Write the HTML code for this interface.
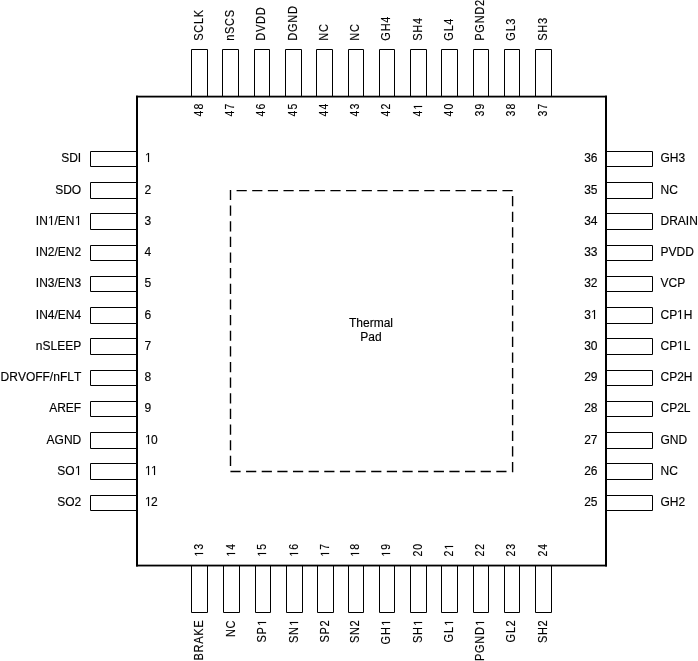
<!DOCTYPE html>
<html><head><meta charset="utf-8"><title>Pinout</title>
<style>html,body{margin:0;padding:0;background:#fff;}body{width:698px;height:661px;overflow:hidden;}svg{display:block;will-change:transform;filter:grayscale(1);}text{font-family:"Liberation Sans",sans-serif;font-size:12px;fill:#000;stroke:#000;stroke-width:0.15px;font-kerning:none;}g.t path{fill:#000;stroke:#000;stroke-width:0.1px;}</style>
</head><body>
<svg width="698" height="661" viewBox="0 0 698 661">
<rect x="0" y="0" width="698" height="661" fill="#fff"/>
<g fill="none" stroke="#000" stroke-width="1">
<path d="M137 151.5H90.5V166.5H137"/>
<path d="M606 151.5H652.5V166.5H606"/>
<path d="M191.5 96.6V49.5H207.5V96.6"/>
<path d="M191.5 565.55V612.5H207.5V565.55"/>
<path d="M137 182.5H90.5V198.5H137"/>
<path d="M606 182.5H652.5V198.5H606"/>
<path d="M222.5 96.6V49.5H238.5V96.6"/>
<path d="M223.5 565.55V612.5H239.5V565.55"/>
<path d="M137 213.5H90.5V229.5H137"/>
<path d="M606 213.5H652.5V229.5H606"/>
<path d="M254.5 96.6V49.5H269.5V96.6"/>
<path d="M255.5 565.55V612.5H270.5V565.55"/>
<path d="M137 245.5H90.5V260.5H137"/>
<path d="M606 245.5H652.5V260.5H606"/>
<path d="M285.5 96.6V49.5H301.5V96.6"/>
<path d="M286.5 565.55V612.5H302.5V565.55"/>
<path d="M137 276.5H90.5V291.5H137"/>
<path d="M606 276.5H652.5V291.5H606"/>
<path d="M316.5 96.6V49.5H332.5V96.6"/>
<path d="M317.5 565.55V612.5H333.5V565.55"/>
<path d="M137 307.5H90.5V323.5H137"/>
<path d="M606 307.5H652.5V323.5H606"/>
<path d="M348.5 96.6V49.5H363.5V96.6"/>
<path d="M348.5 565.55V612.5H363.5V565.55"/>
<path d="M137 338.5H90.5V354.5H137"/>
<path d="M606 338.5H652.5V354.5H606"/>
<path d="M379.5 96.6V49.5H394.5V96.6"/>
<path d="M379.5 565.55V612.5H394.5V565.55"/>
<path d="M137 370.5H90.5V385.5H137"/>
<path d="M606 370.5H652.5V385.5H606"/>
<path d="M410.5 96.6V49.5H426.5V96.6"/>
<path d="M410.5 565.55V612.5H426.5V565.55"/>
<path d="M137 401.5H90.5V416.5H137"/>
<path d="M606 401.5H652.5V416.5H606"/>
<path d="M441.5 96.6V49.5H457.5V96.6"/>
<path d="M441.5 565.55V612.5H457.5V565.55"/>
<path d="M137 432.5H90.5V448.5H137"/>
<path d="M606 432.5H652.5V448.5H606"/>
<path d="M473.5 96.6V49.5H488.5V96.6"/>
<path d="M473.5 565.55V612.5H488.5V565.55"/>
<path d="M137 463.5H90.5V479.5H137"/>
<path d="M606 463.5H652.5V479.5H606"/>
<path d="M504.5 96.6V49.5H519.5V96.6"/>
<path d="M504.5 565.55V612.5H519.5V565.55"/>
<path d="M137 495.5H90.5V510.5H137"/>
<path d="M606 495.5H652.5V510.5H606"/>
<path d="M535.5 96.6V49.5H551.5V96.6"/>
<path d="M535.5 565.55V612.5H551.5V565.55"/>
</g>
<g fill="#000">
<rect x="136" y="95.7" width="2" height="470.75"/>
<rect x="605" y="95.7" width="2" height="470.75"/>
<rect x="136" y="95.7" width="471" height="1.8"/>
<rect x="136" y="564.65" width="471" height="1.8"/>
</g>
<path d="M230.5 190.6V471.5H512.6V190.6H230.5" fill="none" stroke="#000" stroke-width="1.4" stroke-linecap="square" stroke-dasharray="8.8 6.84"/>
<g class="t">
<g transform="translate(371.00 327.00)"><text x="-22.00">Thermal</text></g>
<g transform="translate(371.00 341.00)"><text x="-10.68">Pad</text></g>
<g transform="translate(81.20 162.00)"><text x="-20.00">SDI</text></g>
<g transform="translate(144.45 162.00)"><path d="M3.55 0V-7.90L1.69 -6.45V-7.53L3.64 -9.00H4.60V0Z"/></g>
<g transform="translate(660.50 162.00)"><text x="0.00">GH3</text></g>
<g transform="translate(597.50 162.00)"><text x="-13.35">36</text></g>
<g transform="translate(81.20 194.00)"><text x="-26.00">SDO</text></g>
<g transform="translate(144.45 194.00)"><text x="0.00">2</text></g>
<g transform="translate(660.50 194.00)"><text x="0.00">NC</text></g>
<g transform="translate(597.50 194.00)"><text x="-13.35">35</text></g>
<g transform="translate(81.20 225.00)"><text x="-45.35">IN</text><path d="M-30.20 0V-7.90L-32.06 -6.45V-7.53L-30.11 -9.00H-29.15V0Z"/><text x="-26.68">/EN</text><path d="M-3.20 0V-7.90L-5.06 -6.45V-7.53L-3.11 -9.00H-2.15V0Z"/></g>
<g transform="translate(144.45 225.00)"><text x="0.00">3</text></g>
<g transform="translate(660.50 225.00)"><text x="0.00">DRAIN</text></g>
<g transform="translate(597.50 225.00)"><text x="-13.35">34</text></g>
<g transform="translate(81.20 256.00)"><text x="-45.35">IN2/EN2</text></g>
<g transform="translate(144.45 256.00)"><text x="0.00">4</text></g>
<g transform="translate(660.50 256.00)"><text x="0.00">PVDD</text></g>
<g transform="translate(597.50 256.00)"><text x="-13.35">33</text></g>
<g transform="translate(81.20 287.00)"><text x="-45.35">IN3/EN3</text></g>
<g transform="translate(144.45 287.00)"><text x="0.00">5</text></g>
<g transform="translate(660.50 287.00)"><text x="0.00">VCP</text></g>
<g transform="translate(597.50 287.00)"><text x="-13.35">32</text></g>
<g transform="translate(81.20 319.00)"><text x="-45.35">IN4/EN4</text></g>
<g transform="translate(144.45 319.00)"><text x="0.00">6</text></g>
<g transform="translate(660.50 319.00)"><text x="0.00">CP</text><path d="M19.50 0V-7.90L17.64 -6.45V-7.53L19.59 -9.00H20.55V0Z"/><text x="23.34">H</text></g>
<g transform="translate(597.50 319.00)"><text x="-13.35">3</text><path d="M-3.50 0V-7.90L-5.36 -6.45V-7.53L-3.41 -9.00H-2.45V0Z"/></g>
<g transform="translate(81.20 350.00)"><text x="-45.36">nSLEEP</text></g>
<g transform="translate(144.45 350.00)"><text x="0.00">7</text></g>
<g transform="translate(660.50 350.00)"><text x="0.00">CP</text><path d="M19.50 0V-7.90L17.64 -6.45V-7.53L19.59 -9.00H20.55V0Z"/><text x="23.34">L</text></g>
<g transform="translate(597.50 350.00)"><text x="-13.35">30</text></g>
<g transform="translate(81.20 381.00)"><text x="-80.67">DRVOFF/nFLT</text></g>
<g transform="translate(144.45 381.00)"><text x="0.00">8</text></g>
<g transform="translate(660.50 381.00)"><text x="0.00">CP2H</text></g>
<g transform="translate(597.50 381.00)"><text x="-13.35">29</text></g>
<g transform="translate(81.20 412.00)"><text x="-32.00">AREF</text></g>
<g transform="translate(144.45 412.00)"><text x="0.00">9</text></g>
<g transform="translate(660.50 412.00)"><text x="0.00">CP2L</text></g>
<g transform="translate(597.50 412.00)"><text x="-13.35">28</text></g>
<g transform="translate(81.20 444.00)"><text x="-34.67">AGND</text></g>
<g transform="translate(144.45 444.00)"><path d="M3.55 0V-7.90L1.69 -6.45V-7.53L3.64 -9.00H4.60V0Z"/><text x="6.67">0</text></g>
<g transform="translate(660.50 444.00)"><text x="0.00">GND</text></g>
<g transform="translate(597.50 444.00)"><text x="-13.35">27</text></g>
<g transform="translate(81.20 475.00)"><text x="-24.01">SO</text><path d="M-3.20 0V-7.90L-5.06 -6.45V-7.53L-3.11 -9.00H-2.15V0Z"/></g>
<g transform="translate(144.45 475.00)"><path d="M3.55 0V-7.90L1.69 -6.45V-7.53L3.64 -9.00H4.60V0Z"/><path d="M9.55 0V-7.90L7.69 -6.45V-7.53L9.64 -9.00H10.60V0Z"/></g>
<g transform="translate(660.50 475.00)"><text x="0.00">NC</text></g>
<g transform="translate(597.50 475.00)"><text x="-13.35">26</text></g>
<g transform="translate(81.20 506.00)"><text x="-24.01">SO2</text></g>
<g transform="translate(144.45 506.00)"><path d="M3.55 0V-7.90L1.69 -6.45V-7.53L3.64 -9.00H4.60V0Z"/><text x="6.67">2</text></g>
<g transform="translate(660.50 506.00)"><text x="0.00">GH2</text></g>
<g transform="translate(597.50 506.00)"><text x="-13.35">25</text></g>
<g transform="translate(203.10 40.70) rotate(-90)"><text transform="translate(0.00 0) scale(0.92 1)">S</text><text transform="translate(8.00 0) scale(0.92 1)">C</text><text transform="translate(16.67 0) scale(0.92 1)">L</text><text transform="translate(23.34 0) scale(0.92 1)">K</text></g>
<g transform="translate(203.10 116.50) rotate(-90)"><text transform="translate(0.00 0) scale(0.87 1)">4</text><text transform="translate(6.90 0) scale(0.87 1)">8</text></g>
<g transform="translate(203.10 619.75) rotate(-90)"><text transform="translate(-40.68 0) scale(0.92 1)">B</text><text transform="translate(-32.68 0) scale(0.92 1)">R</text><text transform="translate(-24.01 0) scale(0.92 1)">A</text><text transform="translate(-16.01 0) scale(0.92 1)">K</text><text transform="translate(-8.00 0) scale(0.92 1)">E</text></g>
<g transform="translate(203.10 556.60) rotate(-90)"><path d="M2.60 0V-7.29L0.98 -5.95V-6.94L2.69 -8.30H3.65V0Z"/><text transform="translate(6.90 0) scale(0.87 1)">3</text></g>
<g transform="translate(234.10 40.70) rotate(-90)"><text transform="translate(0.00 0) scale(0.92 1)">n</text><text transform="translate(6.67 0) scale(0.92 1)">S</text><text transform="translate(14.68 0) scale(0.92 1)">C</text><text transform="translate(23.34 0) scale(0.92 1)">S</text></g>
<g transform="translate(234.10 116.50) rotate(-90)"><text transform="translate(0.00 0) scale(0.87 1)">4</text><text transform="translate(6.90 0) scale(0.87 1)">7</text></g>
<g transform="translate(235.10 619.75) rotate(-90)"><text transform="translate(-17.33 0) scale(0.92 1)">N</text><text transform="translate(-8.67 0) scale(0.92 1)">C</text></g>
<g transform="translate(235.10 556.60) rotate(-90)"><path d="M2.60 0V-7.29L0.98 -5.95V-6.94L2.69 -8.30H3.65V0Z"/><text transform="translate(6.90 0) scale(0.87 1)">4</text></g>
<g transform="translate(265.10 40.70) rotate(-90)"><text transform="translate(0.00 0) scale(0.92 1)">D</text><text transform="translate(8.67 0) scale(0.92 1)">V</text><text transform="translate(16.67 0) scale(0.92 1)">D</text><text transform="translate(25.34 0) scale(0.92 1)">D</text></g>
<g transform="translate(265.10 116.50) rotate(-90)"><text transform="translate(0.00 0) scale(0.87 1)">4</text><text transform="translate(6.90 0) scale(0.87 1)">6</text></g>
<g transform="translate(266.10 619.75) rotate(-90)"><text transform="translate(-22.68 0) scale(0.92 1)">S</text><text transform="translate(-14.68 0) scale(0.92 1)">P</text><path d="M-3.25 0V-7.29L-4.96 -5.95V-6.94L-3.16 -8.30H-2.20V0Z"/></g>
<g transform="translate(266.10 556.60) rotate(-90)"><path d="M2.60 0V-7.29L0.98 -5.95V-6.94L2.69 -8.30H3.65V0Z"/><text transform="translate(6.90 0) scale(0.87 1)">5</text></g>
<g transform="translate(297.10 40.70) rotate(-90)"><text transform="translate(0.00 0) scale(0.92 1)">D</text><text transform="translate(8.67 0) scale(0.92 1)">G</text><text transform="translate(18.00 0) scale(0.92 1)">N</text><text transform="translate(26.67 0) scale(0.92 1)">D</text></g>
<g transform="translate(297.10 116.50) rotate(-90)"><text transform="translate(0.00 0) scale(0.87 1)">4</text><text transform="translate(6.90 0) scale(0.87 1)">5</text></g>
<g transform="translate(298.10 619.75) rotate(-90)"><text transform="translate(-23.34 0) scale(0.92 1)">S</text><text transform="translate(-15.34 0) scale(0.92 1)">N</text><path d="M-3.25 0V-7.29L-4.96 -5.95V-6.94L-3.16 -8.30H-2.20V0Z"/></g>
<g transform="translate(298.10 556.60) rotate(-90)"><path d="M2.60 0V-7.29L0.98 -5.95V-6.94L2.69 -8.30H3.65V0Z"/><text transform="translate(6.90 0) scale(0.87 1)">6</text></g>
<g transform="translate(328.10 40.70) rotate(-90)"><text transform="translate(0.00 0) scale(0.92 1)">N</text><text transform="translate(8.67 0) scale(0.92 1)">C</text></g>
<g transform="translate(328.10 116.50) rotate(-90)"><text transform="translate(0.00 0) scale(0.87 1)">4</text><text transform="translate(6.90 0) scale(0.87 1)">4</text></g>
<g transform="translate(329.10 619.75) rotate(-90)"><text transform="translate(-22.68 0) scale(0.92 1)">S</text><text transform="translate(-14.68 0) scale(0.92 1)">P</text><text transform="translate(-6.67 0) scale(0.92 1)">2</text></g>
<g transform="translate(329.10 556.60) rotate(-90)"><path d="M2.60 0V-7.29L0.98 -5.95V-6.94L2.69 -8.30H3.65V0Z"/><text transform="translate(6.90 0) scale(0.87 1)">7</text></g>
<g transform="translate(359.10 40.70) rotate(-90)"><text transform="translate(0.00 0) scale(0.92 1)">N</text><text transform="translate(8.67 0) scale(0.92 1)">C</text></g>
<g transform="translate(359.10 116.50) rotate(-90)"><text transform="translate(0.00 0) scale(0.87 1)">4</text><text transform="translate(6.90 0) scale(0.87 1)">3</text></g>
<g transform="translate(359.10 619.75) rotate(-90)"><text transform="translate(-23.34 0) scale(0.92 1)">S</text><text transform="translate(-15.34 0) scale(0.92 1)">N</text><text transform="translate(-6.67 0) scale(0.92 1)">2</text></g>
<g transform="translate(359.10 556.60) rotate(-90)"><path d="M2.60 0V-7.29L0.98 -5.95V-6.94L2.69 -8.30H3.65V0Z"/><text transform="translate(6.90 0) scale(0.87 1)">8</text></g>
<g transform="translate(390.10 40.70) rotate(-90)"><text transform="translate(0.00 0) scale(0.92 1)">G</text><text transform="translate(9.33 0) scale(0.92 1)">H</text><text transform="translate(18.00 0) scale(0.92 1)">4</text></g>
<g transform="translate(390.10 116.50) rotate(-90)"><text transform="translate(0.00 0) scale(0.87 1)">4</text><text transform="translate(6.90 0) scale(0.87 1)">2</text></g>
<g transform="translate(390.10 619.75) rotate(-90)"><text transform="translate(-24.67 0) scale(0.92 1)">G</text><text transform="translate(-15.34 0) scale(0.92 1)">H</text><path d="M-3.25 0V-7.29L-4.96 -5.95V-6.94L-3.16 -8.30H-2.20V0Z"/></g>
<g transform="translate(390.10 556.60) rotate(-90)"><path d="M2.60 0V-7.29L0.98 -5.95V-6.94L2.69 -8.30H3.65V0Z"/><text transform="translate(6.90 0) scale(0.87 1)">9</text></g>
<g transform="translate(422.10 40.70) rotate(-90)"><text transform="translate(0.00 0) scale(0.92 1)">S</text><text transform="translate(8.00 0) scale(0.92 1)">H</text><text transform="translate(16.67 0) scale(0.92 1)">4</text></g>
<g transform="translate(422.10 116.50) rotate(-90)"><text transform="translate(0.00 0) scale(0.87 1)">4</text><path d="M9.50 0V-7.29L7.88 -5.95V-6.94L9.59 -8.30H10.55V0Z"/></g>
<g transform="translate(422.10 619.75) rotate(-90)"><text transform="translate(-23.34 0) scale(0.92 1)">S</text><text transform="translate(-15.34 0) scale(0.92 1)">H</text><path d="M-3.25 0V-7.29L-4.96 -5.95V-6.94L-3.16 -8.30H-2.20V0Z"/></g>
<g transform="translate(422.10 556.60) rotate(-90)"><text transform="translate(0.00 0) scale(0.87 1)">2</text><text transform="translate(6.90 0) scale(0.87 1)">0</text></g>
<g transform="translate(453.10 40.70) rotate(-90)"><text transform="translate(0.00 0) scale(0.92 1)">G</text><text transform="translate(9.33 0) scale(0.92 1)">L</text><text transform="translate(16.01 0) scale(0.92 1)">4</text></g>
<g transform="translate(453.10 116.50) rotate(-90)"><text transform="translate(0.00 0) scale(0.87 1)">4</text><text transform="translate(6.90 0) scale(0.87 1)">0</text></g>
<g transform="translate(453.10 619.75) rotate(-90)"><text transform="translate(-22.68 0) scale(0.92 1)">G</text><text transform="translate(-13.35 0) scale(0.92 1)">L</text><path d="M-3.25 0V-7.29L-4.96 -5.95V-6.94L-3.16 -8.30H-2.20V0Z"/></g>
<g transform="translate(453.10 556.60) rotate(-90)"><text transform="translate(0.00 0) scale(0.87 1)">2</text><path d="M9.60 0V-7.29L7.98 -5.95V-6.94L9.69 -8.30H10.65V0Z"/></g>
<g transform="translate(484.10 40.70) rotate(-90)"><text transform="translate(0.00 0) scale(0.92 1)">P</text><text transform="translate(8.00 0) scale(0.92 1)">G</text><text transform="translate(17.34 0) scale(0.92 1)">N</text><text transform="translate(26.00 0) scale(0.92 1)">D</text><text transform="translate(34.67 0) scale(0.92 1)">2</text></g>
<g transform="translate(484.10 116.50) rotate(-90)"><text transform="translate(0.00 0) scale(0.87 1)">3</text><text transform="translate(6.90 0) scale(0.87 1)">9</text></g>
<g transform="translate(484.10 619.75) rotate(-90)"><text transform="translate(-41.34 0) scale(0.92 1)">P</text><text transform="translate(-33.34 0) scale(0.92 1)">G</text><text transform="translate(-24.01 0) scale(0.92 1)">N</text><text transform="translate(-15.34 0) scale(0.92 1)">D</text><path d="M-3.25 0V-7.29L-4.96 -5.95V-6.94L-3.16 -8.30H-2.20V0Z"/></g>
<g transform="translate(484.10 556.60) rotate(-90)"><text transform="translate(0.00 0) scale(0.87 1)">2</text><text transform="translate(6.90 0) scale(0.87 1)">2</text></g>
<g transform="translate(515.10 40.70) rotate(-90)"><text transform="translate(0.00 0) scale(0.92 1)">G</text><text transform="translate(9.33 0) scale(0.92 1)">L</text><text transform="translate(16.01 0) scale(0.92 1)">3</text></g>
<g transform="translate(515.10 116.50) rotate(-90)"><text transform="translate(0.00 0) scale(0.87 1)">3</text><text transform="translate(6.90 0) scale(0.87 1)">8</text></g>
<g transform="translate(515.10 619.75) rotate(-90)"><text transform="translate(-22.68 0) scale(0.92 1)">G</text><text transform="translate(-13.35 0) scale(0.92 1)">L</text><text transform="translate(-6.67 0) scale(0.92 1)">2</text></g>
<g transform="translate(515.10 556.60) rotate(-90)"><text transform="translate(0.00 0) scale(0.87 1)">2</text><text transform="translate(6.90 0) scale(0.87 1)">3</text></g>
<g transform="translate(547.10 40.70) rotate(-90)"><text transform="translate(0.00 0) scale(0.92 1)">S</text><text transform="translate(8.00 0) scale(0.92 1)">H</text><text transform="translate(16.67 0) scale(0.92 1)">3</text></g>
<g transform="translate(547.10 116.50) rotate(-90)"><text transform="translate(0.00 0) scale(0.87 1)">3</text><text transform="translate(6.90 0) scale(0.87 1)">7</text></g>
<g transform="translate(547.10 619.75) rotate(-90)"><text transform="translate(-23.34 0) scale(0.92 1)">S</text><text transform="translate(-15.34 0) scale(0.92 1)">H</text><text transform="translate(-6.67 0) scale(0.92 1)">2</text></g>
<g transform="translate(547.10 556.60) rotate(-90)"><text transform="translate(0.00 0) scale(0.87 1)">2</text><text transform="translate(6.90 0) scale(0.87 1)">4</text></g>
</g>
</svg>
</body></html>
